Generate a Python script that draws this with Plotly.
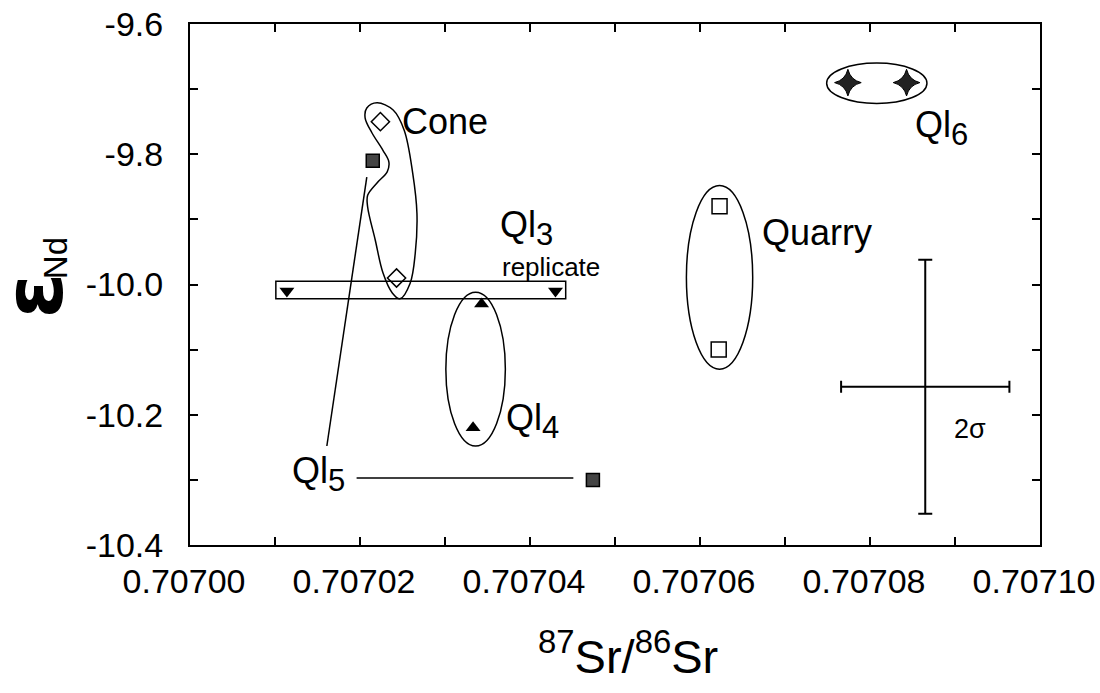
import plotly.graph_objects as go

# ---- sample data: 87Sr/86Sr vs eps-Nd ----
cone_sr = [0.7070224, 0.7070243]
cone_nd = [-9.75, -9.99]

ql3_sr = [0.7070114, 0.7070430]
ql3_nd = [-10.01, -10.01]

ql4_sr = [0.7070343, 0.7070333]
ql4_nd = [-10.03, -10.22]

ql5_sr = [0.7070215, 0.7070474]
ql5_nd = [-9.81, -10.30]

quarry_sr = [0.7070623, 0.7070622]
quarry_nd = [-9.88, -10.10]

ql6_sr = [0.7070774, 0.7070843]
ql6_nd = [-9.69, -9.69]

# representative 2-sigma uncertainty
err_sr = [0.7070865]
err_nd = [-10.157]
err_sr_half = [0.0000099]
err_nd_half = [0.195]

# group outlines (centre x, centre y, half-width x, half-height y)
ell_ql6 = [0.7070808, -9.691, 0.0000059, 0.031]
ell_quarry = [0.7070623, -9.989, 0.0000039, 0.141]
ell_ql4 = [0.7070336, -10.130, 0.0000035, 0.118]
box_ql3 = [0.7070101, -9.995, 0.7070442, -10.022]

# hand-drawn loop around the Cone samples
cone_loop_sr = [0.7070220, 0.7070239, 0.7070252, 0.7070262, 0.7070267, 0.7070265,
                0.7070259, 0.7070247, 0.7070238, 0.7070227, 0.7070218, 0.7070209,
                0.7070209, 0.7070220, 0.7070232, 0.7070234, 0.7070227, 0.7070214,
                0.7070206, 0.7070208, 0.7070220]
cone_loop_nd = [-9.721, -9.732, -9.763, -9.829, -9.891, -9.952,
                -9.998, -10.022, -10.013, -9.982, -9.932, -9.881,
                -9.863, -9.844, -9.827, -9.812, -9.794, -9.767,
                -9.744, -9.729, -9.721]

# leader lines for the Ql5 label
ql5_lead1_sr = [0.7070208, 0.7070161]
ql5_lead1_nd = [-9.835, -10.248]
ql5_lead2_sr = [0.7070196, 0.7070451]
ql5_lead2_nd = [-10.297, -10.297]

# axis ticks
x_tickvals = [0.70700, 0.70702, 0.70704, 0.70706, 0.70708, 0.70710]
x_ticktext = ["0.70700", "0.70702", "0.70704", "0.70706", "0.70708", "0.70710"]
y_tickvals = [-9.6, -9.8, -10.0, -10.2, -10.4]
y_ticktext = ["-9.6", "-9.8", "-10.0", "-10.2", "-10.4"]

FONT = "Liberation Sans, Arial, Helvetica, sans-serif"
INK = "black"

fig = go.Figure()

# outlines
fig.add_trace(go.Scatter(x=cone_loop_sr, y=cone_loop_nd, mode="lines",
                         line=dict(color=INK, width=1.5, shape="spline", smoothing=1.0),
                         hoverinfo="skip"))
fig.add_trace(go.Scatter(x=ql5_lead1_sr, y=ql5_lead1_nd, mode="lines",
                         line=dict(color=INK, width=1.5), hoverinfo="skip"))
fig.add_trace(go.Scatter(x=ql5_lead2_sr, y=ql5_lead2_nd, mode="lines",
                         line=dict(color=INK, width=1.5), hoverinfo="skip"))

for cx, cy, rx, ry in (ell_ql6, ell_quarry, ell_ql4):
    fig.add_shape(type="circle", xref="x", yref="y",
                  x0=cx - rx, x1=cx + rx, y0=cy - ry, y1=cy + ry,
                  line=dict(color=INK, width=1.5))
fig.add_shape(type="rect", xref="x", yref="y",
              x0=box_ql3[0], y0=box_ql3[1], x1=box_ql3[2], y1=box_ql3[3],
              line=dict(color=INK, width=1.5))

# sample points
fig.add_trace(go.Scatter(x=cone_sr, y=cone_nd, mode="markers",
                         marker=dict(symbol="diamond-open", size=14, color=INK,
                                     line=dict(color=INK, width=1.5))))
fig.add_trace(go.Scatter(x=ql3_sr, y=ql3_nd, mode="markers",
                         marker=dict(symbol="triangle-down", size=13, color=INK)))
fig.add_trace(go.Scatter(x=ql4_sr, y=ql4_nd, mode="markers",
                         marker=dict(symbol="triangle-up", size=13, color=INK)))
fig.add_trace(go.Scatter(x=ql5_sr, y=ql5_nd, mode="markers",
                         marker=dict(symbol="square", size=13, color="#444444",
                                     line=dict(color=INK, width=1.5))))
fig.add_trace(go.Scatter(x=quarry_sr, y=quarry_nd, mode="markers",
                         marker=dict(symbol="square-open", size=15, color=INK,
                                     line=dict(color=INK, width=1.5))))
fig.add_trace(go.Scatter(x=ql6_sr, y=ql6_nd, mode="markers",
                         marker=dict(symbol="star-diamond", size=19, color="#222222",
                                     line=dict(color=INK, width=1))))

# 2-sigma error cross
fig.add_trace(go.Scatter(x=err_sr, y=err_nd, mode="markers",
                         marker=dict(size=1, color="rgba(0,0,0,0)"),
                         error_x=dict(type="data", array=err_sr_half, color=INK,
                                      thickness=2, width=6),
                         error_y=dict(type="data", array=err_nd_half, color=INK,
                                      thickness=2, width=7)))

# labels
SUB = "<sub><span style='font-size:31px'>{}</span></sub>"
labels = [
    ("Cone", 0.7070247, -9.749, 36),
    ("Quarry", 0.7070671, -9.920, 36),
    ("Ql" + SUB.format("3"), 0.7070362, -9.914, 36),
    ("replicate", 0.7070365, -9.973, 26),
    ("Ql" + SUB.format("4"), 0.7070369, -10.210, 36),
    ("Ql" + SUB.format("5"), 0.7070118, -10.291, 36),
    ("Ql" + SUB.format("6"), 0.7070850, -9.759, 36),
    ("2σ", 0.7070897, -10.222, 27),
]
for txt, lx, ly, fs in labels:
    fig.add_annotation(x=lx, y=ly, xref="x", yref="y", text=txt, showarrow=False,
                       xanchor="left", yanchor="middle",
                       font=dict(family=FONT, size=fs, color=INK))

# y-axis title: epsilon with Nd subscript
fig.add_annotation(x=-0.184, y=0.478, xref="paper", yref="paper", text="<b>ε</b>",
                   showarrow=False, textangle=-90, xanchor="center", yanchor="middle",
                   font=dict(family="DejaVu Sans, sans-serif", size=82, color=INK))
fig.add_annotation(x=-0.158, y=0.55, xref="paper", yref="paper", text="Nd",
                   showarrow=False, textangle=-90, xanchor="center", yanchor="middle",
                   font=dict(family=FONT, size=33, color=INK))

# x-axis title
fig.add_annotation(x=0.515, y=-0.145, xref="paper", yref="paper",
                   text="<sup>87</sup>Sr/<sup>86</sup>Sr", showarrow=False,
                   xanchor="center", yanchor="top",
                   font=dict(family=FONT, size=47, color=INK))

axis_common = dict(showline=True, linecolor=INK, linewidth=2, mirror="ticks",
                   ticks="inside", ticklen=8, tickwidth=1.5, tickcolor=INK,
                   showgrid=False, zeroline=False, automargin=False,
                   tickfont=dict(family=FONT, size=34, color=INK))

fig.update_xaxes(range=[0.70700, 0.70710], tickvals=x_tickvals, ticktext=x_ticktext,
                 minor=dict(dtick=0.00001, tick0=0.70700, ticks="inside", ticklen=8,
                            tickwidth=1.5, tickcolor=INK, showgrid=False),
                 ticklabelstandoff=5, ticklabelshift=-6, ticklabeloverflow="allow",
                 **axis_common)
fig.update_yaxes(range=[-10.4, -9.6], tickvals=y_tickvals, ticktext=y_ticktext,
                 minor=dict(dtick=0.1, tick0=-9.6, ticks="inside", ticklen=8,
                            tickwidth=1.5, tickcolor=INK, showgrid=False),
                 ticklabelstandoff=18,
                 **axis_common)

fig.update_layout(width=1100, height=693, showlegend=False,
                  margin=dict(l=190, r=60, t=24, b=148, pad=0, autoexpand=False),
                  paper_bgcolor="white", plot_bgcolor="white",
                  font=dict(family=FONT, color=INK))

fig.write_html("out.html")
